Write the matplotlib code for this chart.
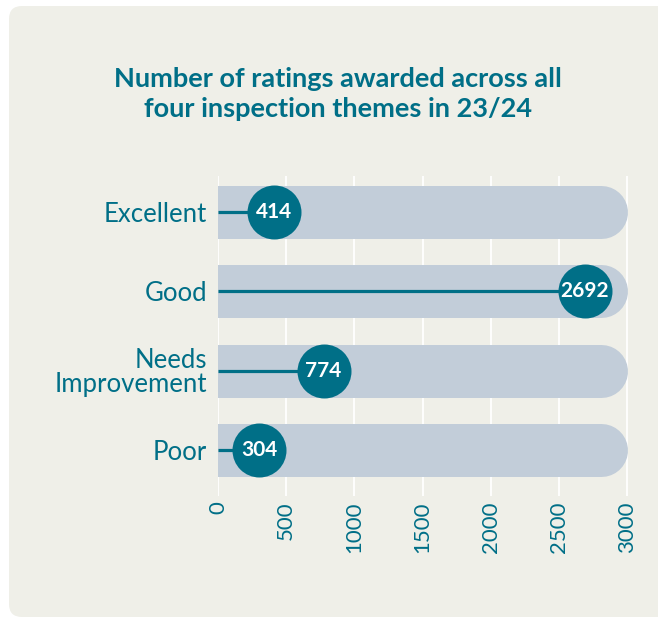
import matplotlib.pyplot as plt
from matplotlib.patches import FancyBboxPatch

# -------------------------
# DATA
# -------------------------
categories = ["Excellent", "Good", "Needs\nImprovement", "Poor"]
ratings = [414, 2692, 774, 304]
scale_max = 3000
ticks = [0, 500, 1000, 1500, 2000, 2500, 3000]
title = "Number of ratings awarded across all\nfour inspection themes in 23/24"

# -------------------------
# STYLE
# -------------------------
teal = "#006f87"
track = "#c2cdd9"
panel = "#efefe8"
plt.rcParams["font.family"] = ["Lato", "DejaVu Sans"]

fig = plt.figure(figsize=(6.58, 6.2), dpi=100, facecolor="white")

# rounded background panel (inches)
fig.patches.append(FancyBboxPatch((0.09, 0.03), 6.8, 6.11,
                                  boxstyle="round,pad=0,rounding_size=0.13",
                                  transform=fig.dpi_scale_trans,
                                  facecolor=panel, edgecolor="none", zorder=-5))

px_per_unit = (627 - 218) / scale_max
xmax = 3150
ax = fig.add_axes([218 / 658, 124 / 620, xmax * px_per_unit / 658, 320 / 620])
ax.set_facecolor("none")
ax.set_zorder(2)

ypos = list(range(len(categories)))[::-1]
bar_px = 53
cap = (bar_px / 2) / px_per_unit

# tracks: round-capped thick line, left cap clipped away at x=0
for y in ypos:
    ax.plot([0, scale_max - cap], [y, y], color=track, lw=bar_px * 0.72,
            solid_capstyle="round", zorder=2)

# lollipops
for y, v in zip(ypos, ratings):
    ax.plot([0, v], [y, y], color=teal, lw=2.3, zorder=3,
            solid_capstyle="butt")
ax.scatter(ratings, ypos, s=(54 * 0.72) ** 2, color=teal, zorder=4,
           linewidths=0)
for y, v in zip(ypos, ratings):
    ax.text(v, y, str(v), color="white", fontsize=15, fontweight="bold",
            ha="center", va="center", zorder=5)

ax.set_xlim(0, xmax)
ax.set_ylim(-0.58, 3.45)
ax.set_xticks(ticks)
ax.set_xticklabels([str(t) for t in ticks], rotation=90, color=teal,
                   fontsize=16)
ax.set_yticks(ypos)
ax.set_yticklabels(categories, color=teal, fontsize=18.5, linespacing=0.95)
ax.tick_params(length=0)
ax.tick_params(axis="x", pad=4)
ax.tick_params(axis="y", pad=8)
for s in ax.spines.values():
    s.set_visible(False)

ax.grid(axis="x", color="white", lw=1.3)
ax.set_axisbelow(True)

fig.text(338 / 658, 1 - 94 / 620, title, ha="center", va="center",
         color=teal, fontsize=19.5, fontweight="bold", linespacing=1.3)

fig.savefig("out.png", dpi=100, facecolor="white")
